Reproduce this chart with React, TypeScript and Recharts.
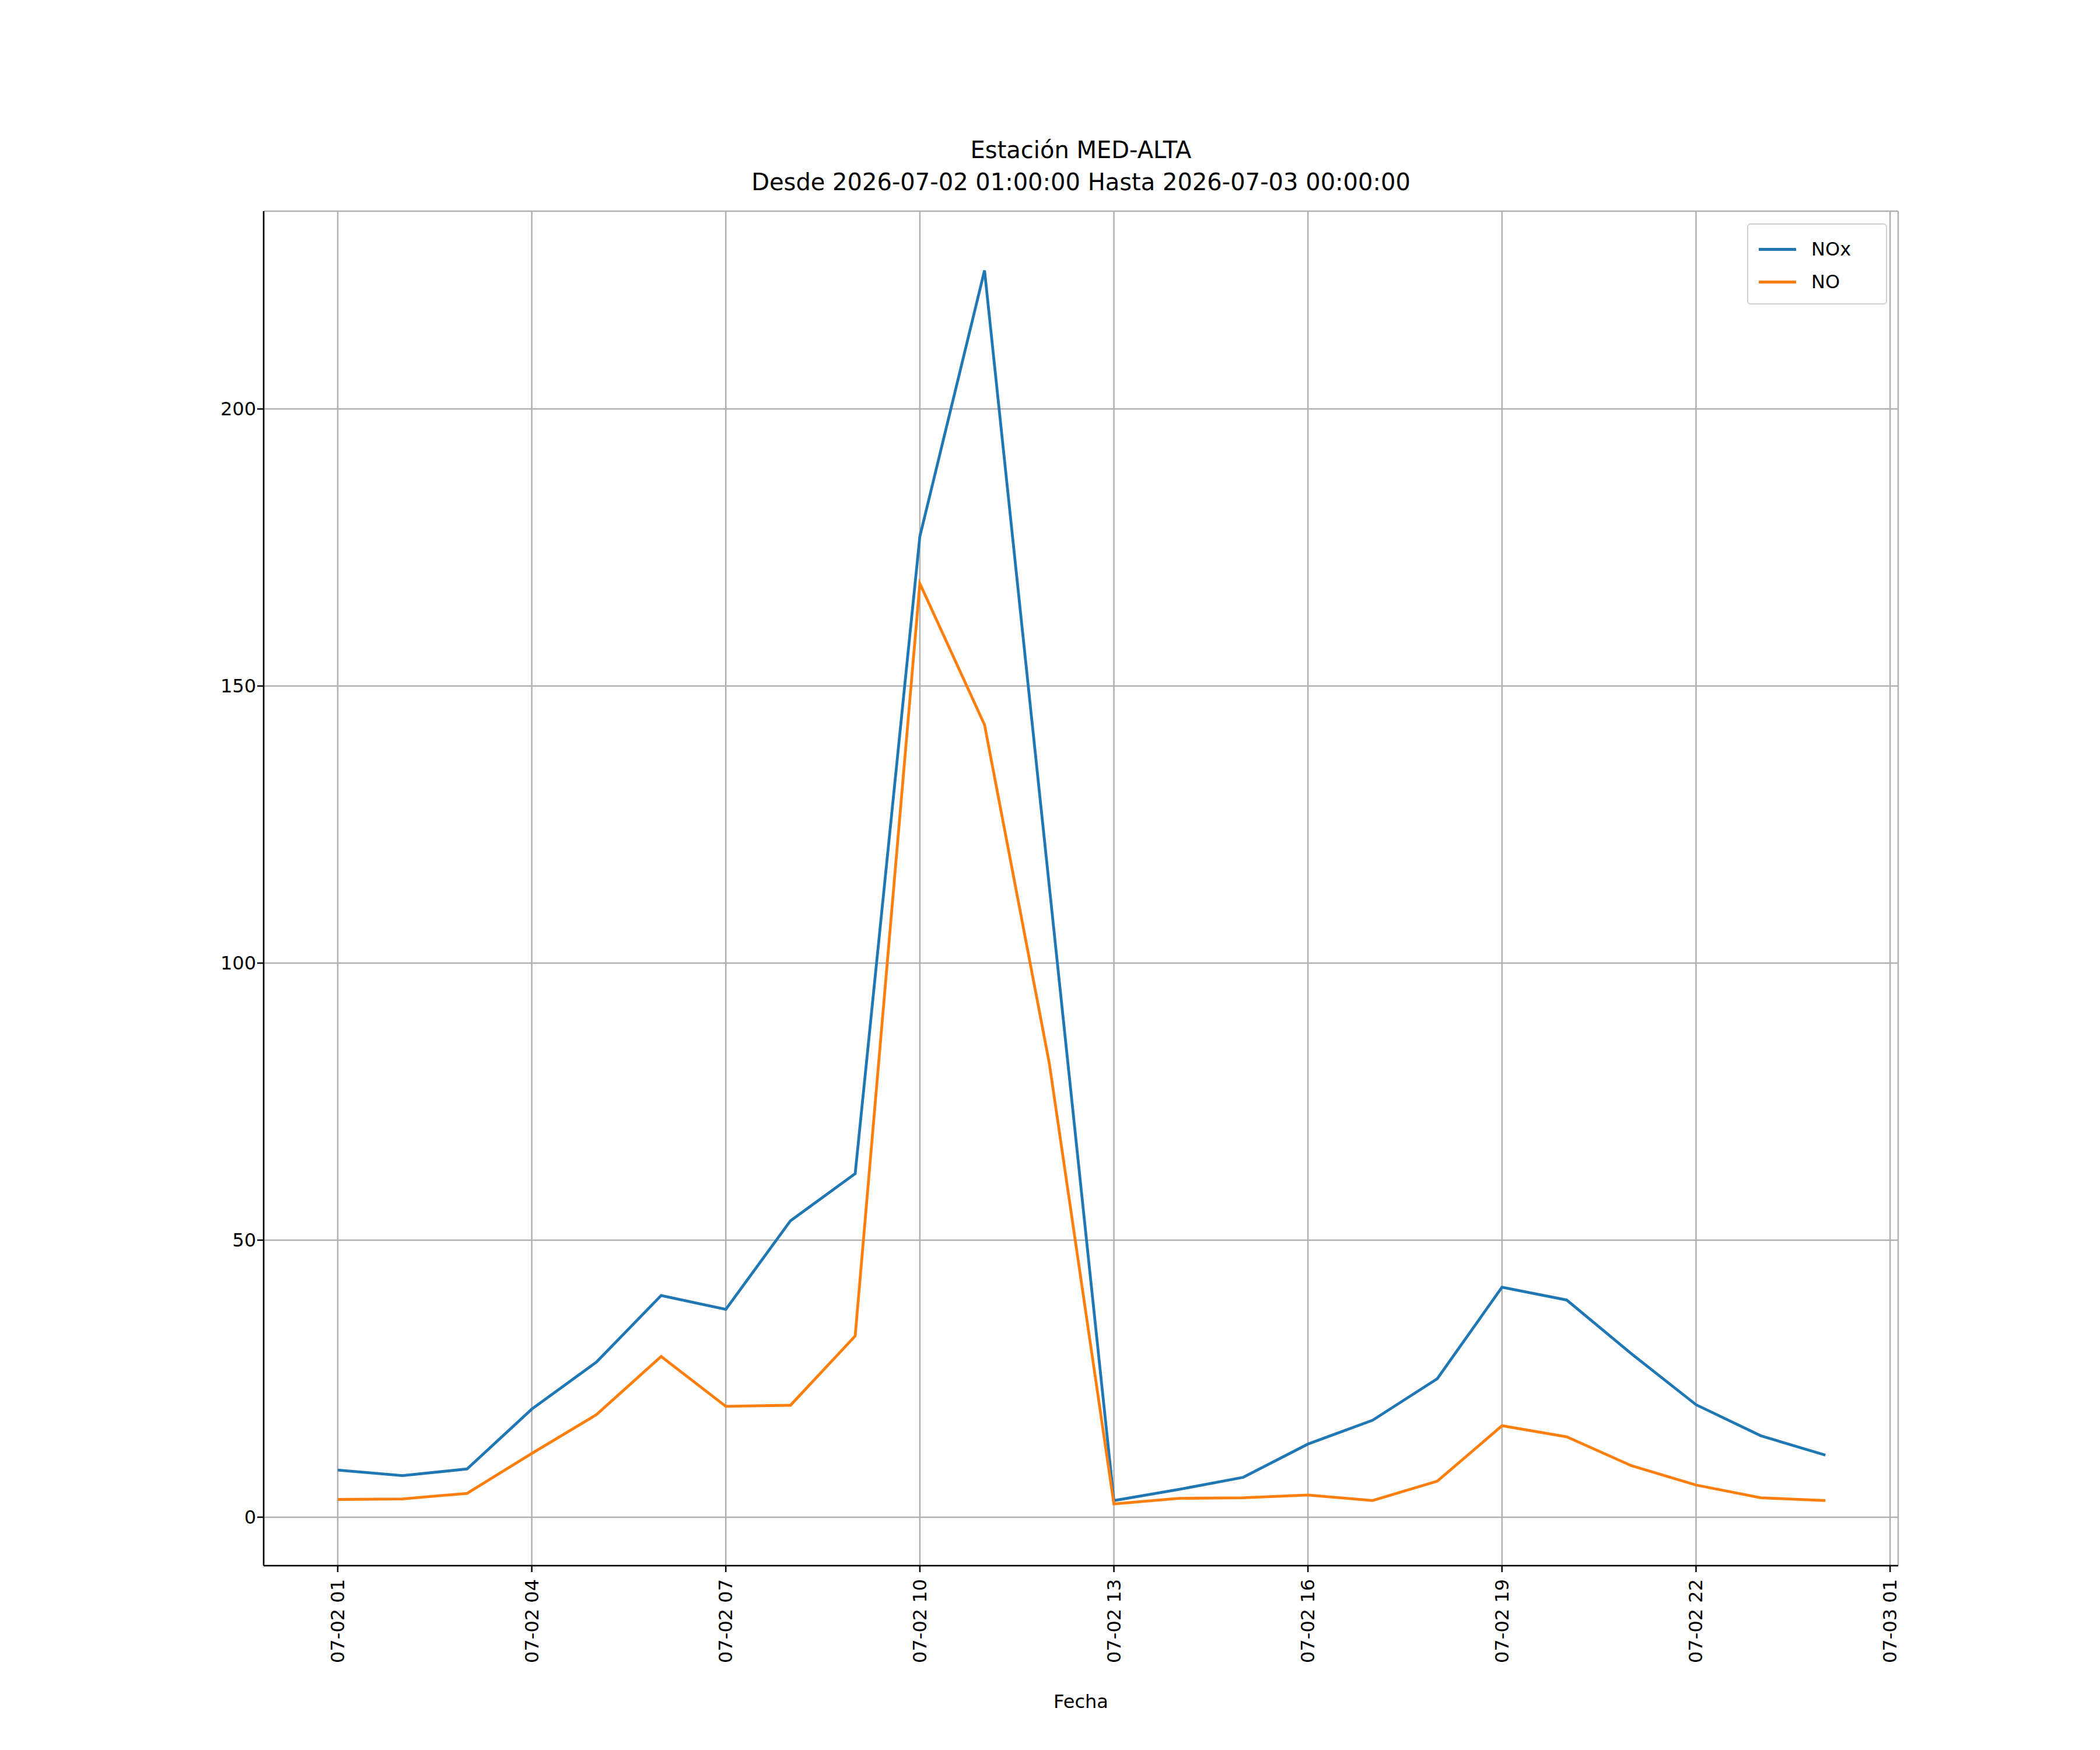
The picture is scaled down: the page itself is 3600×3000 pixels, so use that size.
import React from "react";
import {
  LineChart,
  Line,
  XAxis,
  YAxis,
  CartesianGrid,
} from "recharts";

// hours after 2026-07-02 01:00
const hours = [0, 1, 2, 3, 4, 5, 6, 7, 8, 9, 10, 11, 12, 13, 14, 15, 16, 17, 18, 19, 20, 21, 22, 23];
const nox = [8.5, 7.5, 8.7, 19.5, 28, 40, 37.5, 53.5, 62, 177, 225, 114, 3, 5, 7.2, 13.2, 17.5, 25, 41.5, 39.2, 29.5, 20.3, 14.7, 11.2];
const no = [3.2, 3.3, 4.3, 11.5, 18.5, 29, 20, 20.2, 32.7, 168.5, 143, 82, 2.4, 3.4, 3.5, 4, 3, 6.5, 16.5, 14.5, 9.3, 5.8, 3.5, 3];
const xTicks = [0, 3, 6, 9, 12, 15, 18, 21, 24];
const xLabels = ["07-02 01", "07-02 04", "07-02 07", "07-02 10", "07-02 13", "07-02 16", "07-02 19", "07-02 22", "07-03 01"];
const yTicks = [0, 50, 100, 150, 200];

const data = hours.map((h, i) => ({ h, nox: nox[i], no: no[i] }));

const FONT = "DejaVu Sans, sans-serif";
const FS = 32;

const RotTick = (props: any) => {
  const { x, y, payload } = props;
  const label = xLabels[xTicks.indexOf(payload.value)];
  return (
    <g transform={`translate(${x},${y + 10})`}>
      <text
        transform="rotate(-90)"
        textAnchor="end"
        dy={11}
        fontSize={FS}
        fontFamily={FONT}
        fill="#000"
      >
        {label}
      </text>
    </g>
  );
};

const App: React.FC = () => (
  <div style={{ position: "relative", width: 3600, height: 3000, margin: -8, background: "#fff", fontFamily: FONT }}>
    <div
      style={{
        position: "absolute",
        top: 230,
        left: 452,
        width: 3254 - 452,
        textAlign: "center",
        fontSize: 40,
        lineHeight: "55px",
      }}
    >
      Estación MED-ALTA
      <br />
      Desde 2026-07-02 01:00:00 Hasta 2026-07-03 00:00:00
    </div>
    <LineChart
      width={3600}
      height={3000}
      data={data}
      margin={{ top: 362, right: 346, left: 0, bottom: 0 }}
    >
      <CartesianGrid stroke="#b0b0b0" strokeWidth={2.5} />
      <XAxis
        dataKey="h"
        type="number"
        domain={[-1.145, 24.125]}
        ticks={xTicks}
        tick={<RotTick />}
        tickSize={11}
        stroke="#000"
        strokeWidth={2.5}
        height={316}
        interval={0}
        allowDataOverflow
        label={{ value: "Fecha", position: "insideBottom", offset: 72, fontSize: FS, fontFamily: FONT, fill: "#000" }}
      />
      <XAxis xAxisId="top" orientation="top" dataKey="h" type="number" domain={[-1.145, 24.125]} tick={false} tickLine={false} stroke="#000" strokeWidth={2.5} height={0} />
      <YAxis
        type="number"
        domain={[-8.75, 235.7]}
        ticks={yTicks}
        width={452}
        tickSize={11}
        stroke="#000"
        strokeWidth={2.5}
        allowDataOverflow
        tick={{ fontSize: FS, fontFamily: FONT, fill: "#000" }}
      />
      <YAxis yAxisId="right" orientation="right" domain={[-8.75, 235.7]} tick={false} tickLine={false} stroke="#000" strokeWidth={2.5} width={0} />
      <Line dataKey="nox" stroke="#1f77b4" strokeWidth={4.8} dot={false} isAnimationActive={false} />
      <Line dataKey="no" stroke="#ff7f0e" strokeWidth={4.8} dot={false} isAnimationActive={false} />
    </LineChart>
    <div
      style={{
        position: "absolute",
        left: 2995,
        top: 383,
        width: 240,
        height: 139,
        border: "2.5px solid #d0d0d0",
        borderRadius: 6,
        background: "rgba(255,255,255,0.8)",
        boxSizing: "border-box",
        fontSize: FS,
        padding: "14px 0 0 18px",
      }}
    >
      {[
        ["NOx", "#1f77b4"],
        ["NO", "#ff7f0e"],
      ].map(([name, c]) => (
        <div key={name} style={{ display: "flex", alignItems: "center", height: 56 }}>
          <div style={{ width: 64, height: 5, background: c, marginRight: 26 }} />
          {name}
        </div>
      ))}
    </div>
  </div>
);

export default App;
